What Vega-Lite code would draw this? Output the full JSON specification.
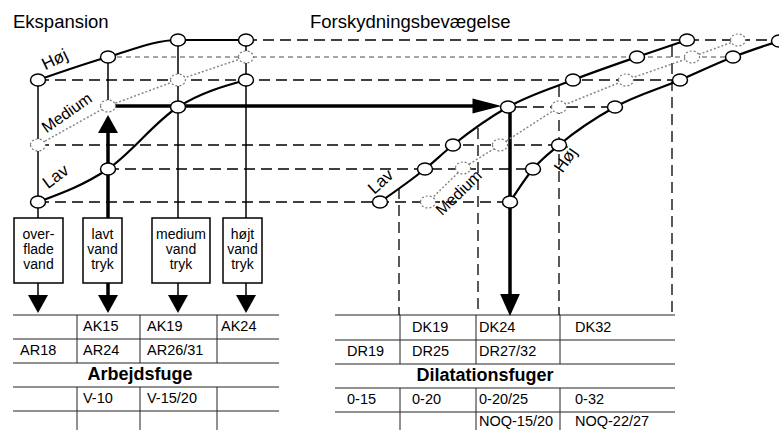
{
 "$schema": "https://vega.github.io/schema/vega-lite/v6.json",
 "width": 779, "height": 430, "padding": 0, "autosize": {"type": "none"},
 "background": "white",
 "view": {"stroke": null},
 "config": {"font": "Liberation Sans"},
 "datasets": {
  "segs": [
   {"x":38,"y":80,"x2":38,"y2":218,"k":"s"},
   {"x":108,"y":57,"x2":108,"y2":106,"k":"s"},
   {"x":178,"y":40,"x2":178,"y2":218,"k":"s"},
   {"x":246,"y":40,"x2":246,"y2":218,"k":"s"},
   {"x":38,"y":283,"x2":38,"y2":297,"k":"s"},
   {"x":178,"y":283,"x2":178,"y2":297,"k":"s"},
   {"x":246,"y":283,"x2":246,"y2":297,"k":"s"},
   {"x":108,"y":132,"x2":108,"y2":218,"k":"t"},
   {"x":108,"y":283,"x2":108,"y2":297,"k":"t"},
   {"x":114,"y":106,"x2":476,"y2":106,"k":"t"},
   {"x":510,"y":108,"x2":510,"y2":296,"k":"t"},
   {"x":246,"y":40,"x2":779,"y2":40,"k":"d"},
   {"x":38,"y":80,"x2":680,"y2":80,"k":"d"},
   {"x":516,"y":107,"x2":615,"y2":107,"k":"d"},
   {"x":38,"y":145,"x2":559,"y2":145,"k":"d"},
   {"x":108,"y":169,"x2":533,"y2":169,"k":"d"},
   {"x":38,"y":202,"x2":510,"y2":202,"k":"d"},
   {"x":399,"y":188,"x2":399,"y2":315,"k":"d"},
   {"x":478,"y":128,"x2":478,"y2":315,"k":"d"},
   {"x":559,"y":86,"x2":559,"y2":315,"k":"d"},
   {"x":672,"y":46,"x2":672,"y2":315,"k":"d"},
   {"x":108,"y":57,"x2":733,"y2":57,"k":"o"},
   {"x":13,"y":315,"x2":279,"y2":315,"k":"b"},
   {"x":13,"y":339,"x2":279,"y2":339,"k":"b"},
   {"x":13,"y":363,"x2":279,"y2":363,"k":"b"},
   {"x":13,"y":387,"x2":279,"y2":387,"k":"b"},
   {"x":13,"y":411,"x2":279,"y2":411,"k":"b"},
   {"x":77,"y":315,"x2":77,"y2":363,"k":"b"},
   {"x":140,"y":315,"x2":140,"y2":363,"k":"b"},
   {"x":217,"y":315,"x2":217,"y2":363,"k":"b"},
   {"x":77,"y":387,"x2":77,"y2":430,"k":"b"},
   {"x":140,"y":387,"x2":140,"y2":430,"k":"b"},
   {"x":217,"y":387,"x2":217,"y2":430,"k":"b"},
   {"x":335,"y":315,"x2":675,"y2":315,"k":"b"},
   {"x":335,"y":340,"x2":675,"y2":340,"k":"b"},
   {"x":335,"y":364,"x2":675,"y2":364,"k":"b"},
   {"x":335,"y":388,"x2":675,"y2":388,"k":"b"},
   {"x":335,"y":412,"x2":675,"y2":412,"k":"b"},
   {"x":400,"y":315,"x2":400,"y2":364,"k":"b"},
   {"x":476,"y":315,"x2":476,"y2":364,"k":"b"},
   {"x":560,"y":315,"x2":560,"y2":364,"k":"b"},
   {"x":400,"y":388,"x2":400,"y2":430,"k":"b"},
   {"x":476,"y":388,"x2":476,"y2":430,"k":"b"},
   {"x":560,"y":388,"x2":560,"y2":430,"k":"b"}
  ],
  "curves": [
   {"s":"LH","x":38,"y":80},{"s":"LH","x":108,"y":57},{"s":"LH","x":178,"y":40},{"s":"LH","x":246,"y":40},
   {"s":"LM","x":38,"y":145},{"s":"LM","x":108,"y":106},{"s":"LM","x":178,"y":80},{"s":"LM","x":246,"y":57},
   {"s":"LL","x":38,"y":202},{"s":"LL","x":108,"y":169},{"s":"LL","x":178,"y":107},{"s":"LL","x":246,"y":80},
   {"s":"RL","x":380,"y":202},{"s":"RL","x":425,"y":169},{"s":"RL","x":453,"y":145},{"s":"RL","x":508,"y":107},{"s":"RL","x":573,"y":80},{"s":"RL","x":637,"y":57},{"s":"RL","x":687,"y":40},
   {"s":"RM","x":428,"y":202},{"s":"RM","x":463,"y":168},{"s":"RM","x":500,"y":145},{"s":"RM","x":559,"y":107},{"s":"RM","x":626,"y":80},{"s":"RM","x":692,"y":57},{"s":"RM","x":738,"y":40},
   {"s":"RH","x":510,"y":202},{"s":"RH","x":533,"y":169},{"s":"RH","x":559,"y":145},{"s":"RH","x":615,"y":107},{"s":"RH","x":680,"y":80},{"s":"RH","x":733,"y":57},{"s":"RH","x":779,"y":41}
  ],
  "boxes": [
   {"x":14,"x2":63,"y":218,"y2":283},
   {"x":83,"x2":122,"y":218,"y2":283},
   {"x":152,"x2":210,"y":218,"y2":283},
   {"x":223,"x2":262,"y":218,"y2":283}
  ],
  "arrows": [
   {"x":38,"y":304,"k":"dn"},{"x":108,"y":304,"k":"dn"},{"x":178,"y":304,"k":"dn"},{"x":246,"y":304,"k":"dn"},
   {"x":108,"y":124,"k":"up"},
   {"x":487,"y":106,"k":"rt"},
   {"x":510,"y":305,"k":"dn2"}
  ],
  "texts": [
   {"x":13,"y":28,"t":"Ekspansion","k":"title"},
   {"x":310,"y":28,"t":"Forskydningsbevægelse","k":"title"},
   {"x":38.5,"y":235,"t":"over-","k":"box"},{"x":38.5,"y":250,"t":"flade","k":"box"},{"x":38.5,"y":265,"t":"vand","k":"box"},
   {"x":102.5,"y":235,"t":"lavt","k":"box"},{"x":102.5,"y":250,"t":"vand","k":"box"},{"x":102.5,"y":265,"t":"tryk","k":"box"},
   {"x":181,"y":235,"t":"medium","k":"box"},{"x":181,"y":250,"t":"vand","k":"box"},{"x":181,"y":265,"t":"tryk","k":"box"},
   {"x":242.5,"y":235,"t":"højt","k":"box"},{"x":242.5,"y":250,"t":"vand","k":"box"},{"x":242.5,"y":265,"t":"tryk","k":"box"},
   {"x":83,"y":327,"t":"AK15","k":"cell"},{"x":147,"y":327,"t":"AK19","k":"cell"},{"x":221,"y":327,"t":"AK24","k":"cell"},
   {"x":20,"y":351,"t":"AR18","k":"cell"},{"x":83,"y":351,"t":"AR24","k":"cell"},{"x":147,"y":351,"t":"AR26/31","k":"cell"},
   {"x":83,"y":399,"t":"V-10","k":"cell"},{"x":147,"y":399,"t":"V-15/20","k":"cell"},
   {"x":412,"y":328,"t":"DK19","k":"cell"},{"x":479,"y":328,"t":"DK24","k":"cell"},{"x":575,"y":328,"t":"DK32","k":"cell"},
   {"x":347,"y":352,"t":"DR19","k":"cell"},{"x":412,"y":352,"t":"DR25","k":"cell"},{"x":479,"y":352,"t":"DR27/32","k":"cell"},
   {"x":347,"y":400,"t":"0-15","k":"cell"},{"x":412,"y":400,"t":"0-20","k":"cell"},{"x":479,"y":400,"t":"0-20/25","k":"cell"},{"x":575,"y":400,"t":"0-32","k":"cell"},
   {"x":479,"y":422,"t":"NOQ-15/20","k":"cell"},{"x":575,"y":422,"t":"NOQ-22/27","k":"cell"},
   {"x":140,"y":375,"t":"Arbejdsfuge","k":"bold"},
   {"x":485,"y":376,"t":"Dilatationsfuger","k":"bold"},
   {"x":55,"y":60,"t":"Høj","k":"a26"},
   {"x":67,"y":113,"t":"Medium","k":"a35"},
   {"x":56,"y":177,"t":"Lav","k":"a37"},
   {"x":381,"y":182,"t":"Lav","k":"a42"},
   {"x":459,"y":193,"t":"Medium","k":"a44"},
   {"x":566,"y":160,"t":"Høj","k":"a55"}
  ]
 },
 "encoding": {
  "x": {"field": "x", "type": "quantitative", "scale": {"domain": [0, 779], "nice": false, "zero": false}, "axis": null},
  "y": {"field": "y", "type": "quantitative", "scale": {"domain": [0, 430], "nice": false, "zero": false, "reverse": true}, "axis": null}
 },
 "layer": [
  {"data": {"name": "segs"}, "transform": [{"filter": "datum.k == 'b'"}],
   "mark": {"type": "rule", "color": "#222", "strokeWidth": 1},
   "encoding": {"x2": {"field": "x2"}, "y2": {"field": "y2"}}},
  {"data": {"name": "segs"}, "transform": [{"filter": "datum.k == 'd'"}],
   "mark": {"type": "rule", "color": "black", "strokeWidth": 1.3, "strokeDash": [11, 6]},
   "encoding": {"x2": {"field": "x2"}, "y2": {"field": "y2"}}},
  {"data": {"name": "segs"}, "transform": [{"filter": "datum.k == 'o'"}],
   "mark": {"type": "rule", "color": "#888", "strokeWidth": 1.3, "strokeDash": [5, 4]},
   "encoding": {"x2": {"field": "x2"}, "y2": {"field": "y2"}}},
  {"data": {"name": "segs"}, "transform": [{"filter": "datum.k == 's'"}],
   "mark": {"type": "rule", "color": "black", "strokeWidth": 1.5},
   "encoding": {"x2": {"field": "x2"}, "y2": {"field": "y2"}}},
  {"data": {"name": "segs"}, "transform": [{"filter": "datum.k == 't'"}],
   "mark": {"type": "rule", "color": "black", "strokeWidth": 3.5},
   "encoding": {"x2": {"field": "x2"}, "y2": {"field": "y2"}}},
  {"data": {"name": "curves"}, "transform": [{"filter": "datum.s == 'LM' || datum.s == 'RM'"}],
   "mark": {"type": "line", "color": "#888", "strokeWidth": 1.5, "strokeDash": [2, 2]},
   "encoding": {"detail": {"field": "s"}, "order": {"field": "x", "type": "quantitative"}}},
  {"data": {"name": "curves"}, "transform": [{"filter": "datum.s != 'LM' && datum.s != 'RM'"}],
   "mark": {"type": "line", "color": "black", "strokeWidth": 2.2, "interpolate": "monotone"},
   "encoding": {"detail": {"field": "s"}, "order": {"field": "x", "type": "quantitative"}}},
  {"data": {"name": "boxes"},
   "mark": {"type": "rect", "fill": "white", "stroke": "black", "strokeWidth": 1.5},
   "encoding": {"x2": {"field": "x2"}, "y2": {"field": "y2"}}},
  {"data": {"name": "curves"}, "transform": [{"filter": "datum.s != 'LM' && datum.s != 'RM'"}],
   "mark": {"type": "point", "shape": "M-1,0A1,0.8,0,1,0,1,0A1,0.8,0,1,0,-1,0Z", "size": 225, "filled": true, "fill": "white", "stroke": "black", "strokeWidth": 1.5, "opacity": 1}},
  {"data": {"name": "curves"}, "transform": [{"filter": "datum.s == 'LM' || datum.s == 'RM'"}],
   "mark": {"type": "point", "shape": "M-1,0A1,0.8,0,1,0,1,0A1,0.8,0,1,0,-1,0Z", "size": 225, "filled": true, "fill": "white", "stroke": "#777", "strokeWidth": 1.2, "strokeDash": [2, 2], "opacity": 1}},
  {"data": {"name": "arrows"}, "transform": [{"filter": "datum.k == 'dn'"}],
   "mark": {"type": "point", "shape": "M-1,-0.9L1,-0.9L0,0.9Z", "size": 400, "filled": true, "fill": "black", "strokeWidth": 0, "opacity": 1}},
  {"data": {"name": "arrows"}, "transform": [{"filter": "datum.k == 'up'"}],
   "mark": {"type": "point", "shape": "M-1,0.9L1,0.9L0,-0.9Z", "size": 400, "filled": true, "fill": "black", "strokeWidth": 0, "opacity": 1}},
  {"data": {"name": "arrows"}, "transform": [{"filter": "datum.k == 'rt'"}],
   "mark": {"type": "point", "shape": "M-1,-0.52L1,0L-1,0.52Z", "size": 841, "filled": true, "fill": "black", "strokeWidth": 0, "opacity": 1}},
  {"data": {"name": "arrows"}, "transform": [{"filter": "datum.k == 'dn2'"}],
   "mark": {"type": "point", "shape": "M-0.9,-1L0.9,-1L0,1Z", "size": 484, "filled": true, "fill": "black", "strokeWidth": 0, "opacity": 1}},
  {"data": {"name": "texts"}, "transform": [{"filter": "datum.k == 'title'"}],
   "mark": {"type": "text", "align": "left", "baseline": "alphabetic", "fontSize": 18.5, "font": "Liberation Sans", "color": "black"},
   "encoding": {"text": {"field": "t"}}},
  {"data": {"name": "texts"}, "transform": [{"filter": "datum.k == 'box'"}],
   "mark": {"type": "text", "align": "center", "baseline": "middle", "fontSize": 14, "font": "Liberation Sans", "color": "black"},
   "encoding": {"text": {"field": "t"}}},
  {"data": {"name": "texts"}, "transform": [{"filter": "datum.k == 'cell'"}],
   "mark": {"type": "text", "align": "left", "baseline": "middle", "fontSize": 14.5, "font": "Liberation Sans", "color": "black"},
   "encoding": {"text": {"field": "t"}}},
  {"data": {"name": "texts"}, "transform": [{"filter": "datum.k == 'bold'"}],
   "mark": {"type": "text", "align": "center", "baseline": "middle", "fontSize": 18, "fontWeight": "bold", "font": "Liberation Sans", "color": "black"},
   "encoding": {"text": {"field": "t"}}},
  {"data": {"name": "texts"}, "transform": [{"filter": "datum.k == 'a26'"}],
   "mark": {"type": "text", "align": "center", "baseline": "middle", "fontSize": 17, "angle": -26, "color": "black"},
   "encoding": {"text": {"field": "t"}}},
  {"data": {"name": "texts"}, "transform": [{"filter": "datum.k == 'a35'"}],
   "mark": {"type": "text", "align": "center", "baseline": "middle", "fontSize": 16, "angle": -35, "color": "black"},
   "encoding": {"text": {"field": "t"}}},
  {"data": {"name": "texts"}, "transform": [{"filter": "datum.k == 'a37'"}],
   "mark": {"type": "text", "align": "center", "baseline": "middle", "fontSize": 17, "angle": -37, "color": "black"},
   "encoding": {"text": {"field": "t"}}},
  {"data": {"name": "texts"}, "transform": [{"filter": "datum.k == 'a42'"}],
   "mark": {"type": "text", "align": "center", "baseline": "middle", "fontSize": 17, "angle": -42, "color": "black"},
   "encoding": {"text": {"field": "t"}}},
  {"data": {"name": "texts"}, "transform": [{"filter": "datum.k == 'a44'"}],
   "mark": {"type": "text", "align": "center", "baseline": "middle", "fontSize": 16, "angle": -44, "color": "black"},
   "encoding": {"text": {"field": "t"}}},
  {"data": {"name": "texts"}, "transform": [{"filter": "datum.k == 'a55'"}],
   "mark": {"type": "text", "align": "center", "baseline": "middle", "fontSize": 17, "angle": -55, "color": "black"},
   "encoding": {"text": {"field": "t"}}}
 ]
}
